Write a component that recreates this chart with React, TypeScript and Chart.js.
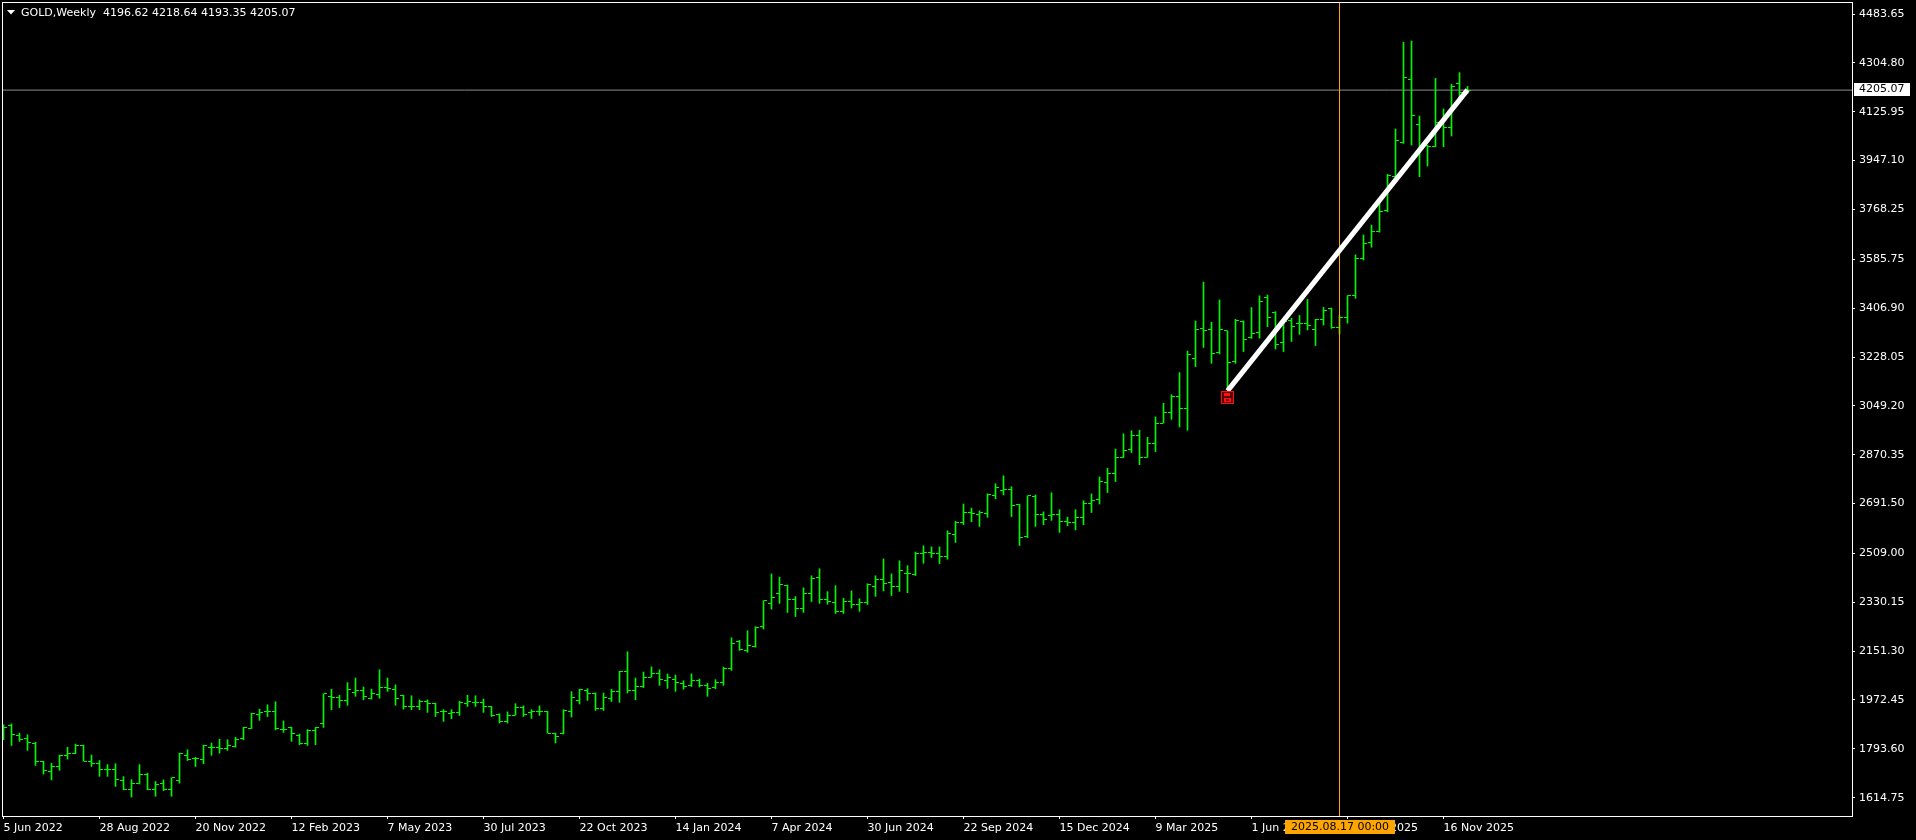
import React, { useEffect, useRef } from "react";
import { Chart, registerables } from "chart.js";

Chart.register(...registerables);

// ---- Weekly OHLC, bar 0 = week of 5 Jun 2022 ----
const barOpen = [
  1876, 1878, 1841, 1830, 1815, 1746, 1712, 1730, 1768, 1778,
  1807, 1749, 1739, 1717, 1719, 1679, 1646, 1665, 1700, 1646,
  1665, 1646, 1679, 1768, 1757, 1756, 1800, 1799, 1796, 1802,
  1833, 1869, 1921, 1930, 1930, 1863, 1871, 1844, 1813, 1860,
  1888, 1985, 1983, 1971, 2001, 2006, 1979, 1994, 2018, 2012,
  1988, 1949, 1949, 1966, 1961, 1931, 1922, 1927, 1961, 1965,
  1964, 1949, 1918, 1892, 1917, 1944, 1925, 1929, 1931, 1851,
  1848, 1929, 1972, 2009, 1998, 1943, 1978, 2005, 2075, 2008,
  2023, 2056, 2068, 2045, 2049, 2032, 2027, 2042, 2027, 2020,
  2038, 2086, 2187, 2155, 2169, 2242, 2327, 2364, 2391, 2339,
  2306, 2364, 2422, 2339, 2331, 2298, 2334, 2323, 2331, 2389,
  2415, 2404, 2388, 2434, 2431, 2510, 2514, 2508, 2499, 2579,
  2623, 2660, 2653, 2656, 2721, 2739, 2742, 2689, 2571, 2717,
  2653, 2648, 2651, 2627, 2623, 2642, 2693, 2705, 2770, 2803,
  2861, 2891, 2939, 2861, 2913, 2986, 3026, 3085, 3041, 3224,
  3333, 3330, 3244, 3324, 3211, 3358, 3299, 3318, 3447, 3392,
  3282, 3361, 3352, 3352, 3327, 3366, 3407, 3337, 3374, 3452,
  3588, 3649, 3687, 3763, 3888, 4013, 4245, 4080, 4004, 4000,
  4081, 4069, 4231, 4196.62,
];
const barHigh = [
  1882, 1885, 1851, 1845, 1818, 1748, 1741, 1771, 1799, 1811,
  1807, 1771, 1751, 1736, 1739, 1692, 1681, 1736, 1705, 1674,
  1680, 1688, 1778, 1790, 1763, 1807, 1815, 1829, 1827, 1836,
  1873, 1924, 1939, 1955, 1966, 1896, 1873, 1848, 1864, 1872,
  1995, 2012, 1990, 2036, 2053, 2020, 2012, 2083, 2053, 2028,
  1990, 1988, 1973, 1973, 1961, 1937, 1937, 1968, 1990, 1988,
  1976, 1949, 1922, 1929, 1959, 1951, 1937, 1951, 1931, 1851,
  1937, 2003, 2012, 2014, 1998, 1998, 2012, 2078, 2149, 2053,
  2075, 2094, 2083, 2068, 2064, 2043, 2068, 2049, 2034, 2047,
  2093, 2200, 2191, 2226, 2241, 2336, 2434, 2422, 2393, 2351,
  2383, 2427, 2453, 2369, 2391, 2345, 2372, 2343, 2398, 2427,
  2489, 2434, 2482, 2464, 2514, 2537, 2533, 2533, 2592, 2626,
  2690, 2675, 2665, 2727, 2764, 2793, 2753, 2689, 2720, 2723,
  2661, 2731, 2669, 2642, 2669, 2702, 2727, 2789, 2821, 2891,
  2947, 2958, 2960, 2934, 3009, 3059, 3090, 3171, 3250, 3360,
  3502, 3355, 3437, 3324, 3366, 3360, 3409, 3452, 3455, 3394,
  3364, 3370, 3380, 3439, 3366, 3410, 3407, 3380, 3453, 3602,
  3675, 3711, 3791, 3897, 4063, 4380, 4385, 4110, 4004, 4248,
  4136, 4227, 4269, 4218.64,
];
const barLow = [
  1827, 1806, 1821, 1788, 1733, 1701, 1680, 1715, 1756, 1776,
  1749, 1729, 1693, 1693, 1656, 1644, 1617, 1665, 1644, 1620,
  1641, 1620, 1668, 1751, 1729, 1739, 1770, 1778, 1788, 1800,
  1827, 1868, 1898, 1912, 1863, 1854, 1821, 1809, 1806, 1809,
  1872, 1937, 1945, 1953, 1986, 1973, 1976, 1979, 2004, 1953,
  1939, 1937, 1937, 1927, 1912, 1894, 1904, 1916, 1949, 1949,
  1927, 1912, 1888, 1888, 1917, 1912, 1905, 1916, 1851, 1815,
  1848, 1910, 1958, 1971, 1934, 1934, 1967, 1964, 1998, 1973,
  2018, 2056, 2026, 2015, 2004, 2012, 2022, 2020, 1986, 2014,
  2026, 2081, 2154, 2147, 2166, 2232, 2305, 2326, 2293, 2278,
  2293, 2333, 2326, 2323, 2289, 2289, 2309, 2297, 2322, 2352,
  2372, 2355, 2370, 2365, 2428, 2473, 2494, 2472, 2488, 2549,
  2614, 2625, 2608, 2641, 2709, 2723, 2644, 2538, 2567, 2608,
  2614, 2630, 2586, 2610, 2595, 2614, 2659, 2690, 2732, 2772,
  2860, 2878, 2834, 2861, 2882, 2986, 3000, 2972, 2960, 3193,
  3263, 3205, 3239, 3114, 3205, 3248, 3296, 3297, 3339, 3257,
  3248, 3285, 3311, 3327, 3270, 3345, 3333, 3312, 3352, 3443,
  3583, 3630, 3685, 3760, 3888, 4010, 4004, 3888, 3927, 3998,
  3998, 4037, 4163, 4193.35,
];
const barClose = [
  1873, 1845, 1827, 1816, 1746, 1714, 1730, 1771, 1778, 1807,
  1749, 1741, 1717, 1718, 1681, 1646, 1665, 1699, 1646, 1662,
  1646, 1687, 1776, 1756, 1760, 1806, 1800, 1796, 1805, 1827,
  1870, 1923, 1928, 1930, 1868, 1866, 1849, 1813, 1860, 1870,
  1995, 1983, 1971, 2012, 2007, 1985, 1995, 2018, 2014, 1979,
  1949, 1949, 1966, 1961, 1925, 1931, 1927, 1965, 1966, 1964,
  1948, 1916, 1892, 1917, 1944, 1920, 1931, 1929, 1851, 1837,
  1935, 1983, 2010, 1998, 1943, 1983, 2005, 2075, 2008, 2023,
  2056, 2068, 2049, 2053, 2036, 2023, 2042, 2027, 2016, 2038,
  2086, 2181, 2158, 2171, 2238, 2336, 2349, 2397, 2342, 2306,
  2364, 2419, 2339, 2333, 2298, 2334, 2323, 2331, 2397, 2415,
  2398, 2388, 2445, 2434, 2510, 2514, 2508, 2499, 2583, 2623,
  2660, 2656, 2660, 2726, 2752, 2742, 2686, 2566, 2720, 2653,
  2634, 2651, 2627, 2623, 2641, 2693, 2704, 2773, 2803, 2861,
  2887, 2939, 2861, 2913, 2986, 3026, 3085, 3041, 3239, 3330,
  3324, 3242, 3327, 3208, 3360, 3293, 3313, 3431, 3372, 3275,
  3358, 3339, 3352, 3342, 3366, 3400, 3337, 3374, 3452, 3588,
  3644, 3687, 3760, 3891, 4019, 4251, 4112, 3995, 4000, 4087,
  4069, 4220, 4197, 4205.07,
];

// ---- Axis ticks ----
const xTickBars = [0, 12, 24, 36, 48, 60, 72, 84, 96, 108, 120, 132, 144, 156, 168, 180];
const xTickLabels = [
  "5 Jun 2022", "28 Aug 2022", "20 Nov 2022", "12 Feb 2023", "7 May 2023", "30 Jul 2023",
  "22 Oct 2023", "14 Jan 2024", "7 Apr 2024", "30 Jun 2024", "22 Sep 2024", "15 Dec 2024",
  "9 Mar 2025", "1 Jun 2025", "24 Aug 2025", "16 Nov 2025",
];
const yTickValues = [
  4483.65, 4304.8, 4125.95, 3947.1, 3768.25, 3585.75, 3406.9, 3228.05, 3049.2,
  2870.35, 2691.5, 2509.0, 2330.15, 2151.3, 1972.45, 1793.6, 1614.75,
];

// ---- Annotations ----
const symbolTitle = "GOLD,Weekly";
const cursorBar = [167];
const cursorLabel = "2025.08.17 00:00";
const trendBars = [153, 183];
const trendPrices = [3104, 4206];
const alertMark = [{ x: 153, y: 3078 }];

// ---- Scale window ----
const xMin = -0.1875;
const xMax = 231.0625;
const yMin = 1547.8;
const yMax = 4527.6;

const BAR_GREEN = "#00f500";
const FONT = '"DejaVu Sans", Verdana, sans-serif';

function makeTick(side: "open" | "close"): HTMLCanvasElement {
  const c = document.createElement("canvas");
  c.width = 7;
  c.height = 1;
  const g = c.getContext("2d")!;
  g.fillStyle = BAR_GREEN;
  if (side === "open") g.fillRect(0, 0, 3, 1);
  else g.fillRect(4, 0, 3, 1);
  return c;
}

function makeAlertIcon(): HTMLCanvasElement {
  const c = document.createElement("canvas");
  c.width = 13;
  c.height = 13;
  const g = c.getContext("2d")!;
  g.fillStyle = "#5a0000";
  g.fillRect(0, 0, 13, 13);
  g.strokeStyle = "#ff1010";
  g.lineWidth = 1;
  g.strokeRect(0.5, 0.5, 12, 12);
  g.fillStyle = "#ff1010";
  g.fillRect(3, 2, 6, 3);
  g.fillRect(3, 7, 7, 4);
  g.fillStyle = "#5a0000";
  g.fillRect(5, 8, 3, 2);
  return c;
}

const lastIdx = barClose.length - 1;

const noScalePadding = (s: any) => {
  s.paddingTop = 0;
  s.paddingBottom = 0;
  s.paddingLeft = 0;
  s.paddingRight = 0;
};

const overlayPlugin = {
  id: "mt4Overlay",
  beforeDraw(chart: any) {
    const { ctx, width, height } = chart;
    ctx.save();
    ctx.fillStyle = "#000";
    ctx.fillRect(0, 0, width, height);
    ctx.restore();
  },
  beforeDatasetsDraw(chart: any) {
    chart.ctx.imageSmoothingEnabled = false;
  },
  afterDatasetsDraw(chart: any) {
    chart.ctx.imageSmoothingEnabled = true;
  },
  afterDraw(chart: any) {
    const { ctx, chartArea: a, scales } = chart;
    ctx.save();
    // frame
    ctx.strokeStyle = "#ffffff";
    ctx.lineWidth = 1;
    ctx.strokeRect(
      Math.round(a.left) + 0.5,
      Math.round(a.top) + 0.5,
      Math.round(a.right - a.left),
      Math.round(a.bottom - a.top)
    );
    // title
    ctx.fillStyle = "#ffffff";
    ctx.beginPath();
    ctx.moveTo(7, 10);
    ctx.lineTo(15, 10);
    ctx.lineTo(11, 14.5);
    ctx.closePath();
    ctx.fill();
    ctx.font = `11px ${FONT}`;
    ctx.textBaseline = "middle";
    ctx.textAlign = "left";
    const t =
      `${symbolTitle}  ${barOpen[lastIdx].toFixed(2)} ${barHigh[lastIdx].toFixed(2)} ` +
      `${barLow[lastIdx].toFixed(2)} ${barClose[lastIdx].toFixed(2)}`;
    ctx.fillText(t, 21, 13);
    // last price label
    const py = scales.y.getPixelForValue(barClose[lastIdx]);
    ctx.fillStyle = "#ffffff";
    ctx.fillRect(Math.round(a.right) + 2, Math.round(py) - 7, 56, 13);
    ctx.fillStyle = "#000000";
    ctx.fillText(barClose[lastIdx].toFixed(2), Math.round(a.right) + 7, Math.round(py) - 0.5);
    // cursor time label
    const tx = Math.round(scales.x.getPixelForValue(cursorBar[0]));
    ctx.fillStyle = "#ffa500";
    ctx.fillRect(tx - 55, Math.round(a.bottom) + 4, 110, 14);
    ctx.fillStyle = "#000000";
    ctx.textAlign = "center";
    ctx.fillText(cursorLabel, tx, Math.round(a.bottom) + 11);
    ctx.restore();
  },
};

export default function App() {
  const ref = useRef<HTMLCanvasElement | null>(null);

  useEffect(() => {
    if (!ref.current) return;
    Chart.defaults.font.family = FONT;
    const openTick = makeTick("open");
    const closeTick = makeTick("close");
    const icon = makeAlertIcon();

    const chart = new Chart(ref.current, {
      type: "bar",
      data: {
        datasets: [
          {
            type: "bar",
            label: "range",
            data: barHigh.map((h, i) => ({ x: i, y: [barLow[i], h] })) as any,
            backgroundColor: BAR_GREEN,
            borderWidth: 0,
            barThickness: 1,
            grouped: false,
            order: 5,
          } as any,
          {
            type: "scatter",
            label: "open",
            data: barOpen.map((o, i) => ({ x: i, y: o })),
            pointStyle: openTick as any,
            pointRadius: 3,
            order: 5,
          } as any,
          {
            type: "scatter",
            label: "close",
            data: barClose.map((c, i) => ({ x: i, y: c })),
            pointStyle: closeTick as any,
            pointRadius: 3,
            order: 5,
          } as any,
          {
            type: "line",
            label: "price",
            data: [
              { x: xMin, y: barClose[lastIdx] },
              { x: xMax, y: barClose[lastIdx] },
            ],
            borderColor: "#8c8c8c",
            borderWidth: 1,
            pointRadius: 0,
            fill: false,
            order: 8,
          } as any,
          {
            type: "line",
            label: "cursor",
            data: [
              { x: cursorBar[0], y: yMin },
              { x: cursorBar[0], y: yMax },
            ],
            borderColor: "#ffa500",
            borderWidth: 1,
            pointRadius: 0,
            fill: false,
            order: 3,
          } as any,
          {
            type: "line",
            label: "trend",
            data: trendBars.map((b, i) => ({ x: b, y: trendPrices[i] })),
            borderColor: "#ffffff",
            borderWidth: 5,
            borderCapStyle: "butt",
            pointRadius: 0,
            fill: false,
            order: 2,
          } as any,
          {
            type: "scatter",
            label: "alert",
            data: alertMark,
            pointStyle: icon as any,
            pointRadius: 6,
            order: 1,
          } as any,
        ],
      },
      options: {
        responsive: false,
        animation: false,
        events: [],
        devicePixelRatio: 1,
        layout: { autoPadding: false, padding: { left: 2, top: 2, right: 0, bottom: 0 } },
        plugins: {
          legend: { display: false },
          tooltip: { enabled: false },
          title: { display: false },
        },
        scales: {
          x: {
            type: "linear",
            position: "bottom",
            min: xMin,
            max: xMax,
            offset: false,
            afterBuildTicks: (s: any) => {
              s.ticks = xTickBars.map((v) => ({ value: v }));
            },
            afterFit: (s: any) => {
              s.height = 24;
              noScalePadding(s);
            },
            ticks: {
              callback: (v: any) => {
                const k = xTickBars.indexOf(Number(v));
                return k >= 0 ? xTickLabels[k] : "";
              },
              autoSkip: false,
              maxRotation: 0,
              minRotation: 0,
              align: "start",
              color: "#ffffff",
              font: { family: FONT, size: 11 },
              padding: 3,
            },
            grid: {
              display: true,
              drawOnChartArea: false,
              drawTicks: true,
              tickLength: 3,
              color: "#ffffff",
              offset: false,
            },
            border: { display: false },
          } as any,
          y: {
            type: "linear",
            position: "right",
            min: yMin,
            max: yMax,
            afterBuildTicks: (s: any) => {
              s.ticks = yTickValues.map((v) => ({ value: v }));
            },
            afterFit: (s: any) => {
              s.width = 64;
              noScalePadding(s);
            },
            ticks: {
              callback: (v: any) => Number(v).toFixed(2),
              autoSkip: false,
              color: "#ffffff",
              font: { family: FONT, size: 11 },
              padding: 4,
              crossAlign: "near",
            },
            grid: {
              display: true,
              drawOnChartArea: false,
              drawTicks: true,
              tickLength: 3,
              color: "#ffffff",
            },
            border: { display: false },
          } as any,
        },
      } as any,
      plugins: [overlayPlugin as any],
    });

    return () => {
      chart.destroy();
    };
  }, []);

  return (
    <div style={{ width: 1916, height: 840, background: "#000" }}>
      <style>{`html,body{margin:0;padding:0;background:#000;overflow:hidden;}`}</style>
      <canvas ref={ref} width={1916} height={840} style={{ display: "block" }} />
    </div>
  );
}
